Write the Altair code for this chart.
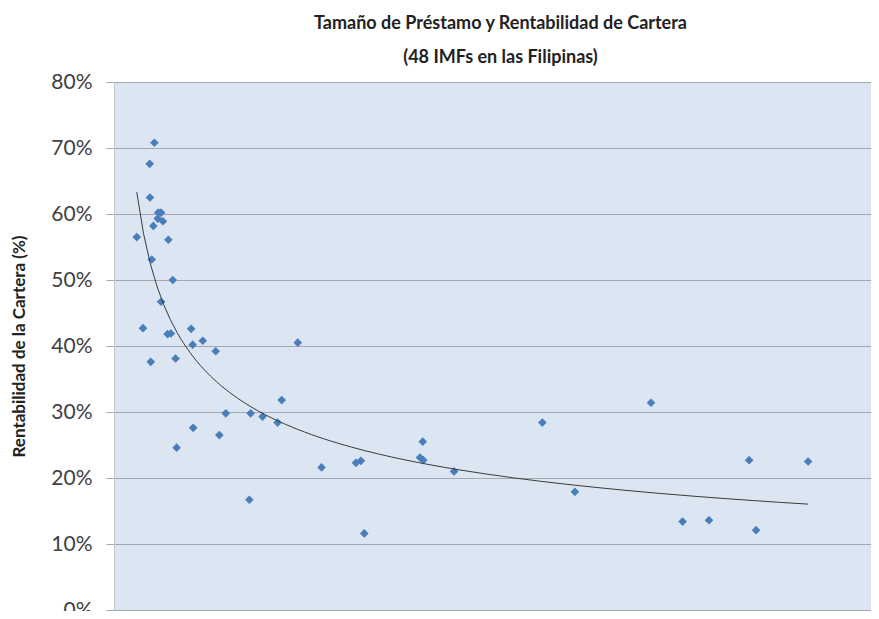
import altair as alt
import pandas as pd

# Average loan size (axis units, tick every 5) and portfolio yield (fraction)
loan_size = [0.88, 1.12, 1.38, 1.39, 1.56, 1.46, 1.42, 1.52, 1.71, 1.82,
             1.69, 1.89, 2.10, 1.82, 2.27, 2.07, 2.20, 2.38, 2.42, 2.98,
             3.04, 3.06, 3.43, 3.93, 4.07, 4.32, 5.23, 5.28, 5.74, 6.32,
             6.48, 7.10, 8.02, 9.35, 9.54, 9.67, 11.82, 11.95, 11.93, 13.14,
             16.55, 17.81, 20.75, 21.97, 22.99, 24.54, 24.81, 26.82]
portfolio_yield = [0.565, 0.427, 0.676, 0.625, 0.708, 0.531, 0.376, 0.582, 0.602, 0.602,
                   0.593, 0.589, 0.561, 0.467, 0.500, 0.418, 0.419, 0.381, 0.246, 0.426,
                   0.402, 0.276, 0.408, 0.392, 0.265, 0.298, 0.167, 0.298, 0.293, 0.284,
                   0.318, 0.405, 0.216, 0.223, 0.226, 0.116, 0.231, 0.227, 0.255, 0.210,
                   0.284, 0.179, 0.314, 0.134, 0.136, 0.227, 0.121, 0.225]

x_ticks = [0, 5, 10, 15, 20, 25]
y_ticks = [0, 0.1, 0.2, 0.3, 0.4, 0.5, 0.6, 0.7, 0.8]

title_lines = ["Tamaño de Préstamo y Rentabilidad de Cartera", "(48 IMFs en las Filipinas)"]
y_title = "Rentabilidad de la Cartera (%)"

df = pd.DataFrame({"loan": loan_size, "ret": portfolio_yield})

x_scale = alt.Scale(domain=[0, 29.25], nice=False, zero=False)
y_scale = alt.Scale(domain=[0, 0.8], nice=False)

x_axis = alt.Axis(values=x_ticks, labels=False, title=None, grid=False, domain=False,
                  ticks=True, tickSize=8, tickColor="#a6a6a6", tickWidth=1)
y_axis = alt.Axis(values=y_ticks, format=".0%", title=y_title, grid=True,
                  gridColor="#a3a8ae", gridWidth=1, domain=True, domainColor="#c2c8d0",
                  tickColor="#a3a8ae", tickSize=8, labelPadding=14,
                  labelFont="Lato", labelFontSize=21, labelColor="#404040",
                  titleFont="Lato", titleFontSize=17, titleFontWeight="bold",
                  titleColor="#222222", titleX=-86, titlePadding=0)

base = alt.Chart(df)

points = base.mark_point(shape="diamond", filled=True, size=75, color="#4a7ebb", opacity=1).encode(
    x=alt.X("loan:Q", scale=x_scale, axis=x_axis),
    y=alt.Y("ret:Q", scale=y_scale, axis=y_axis),
)

trend = base.transform_regression("loan", "ret", method="pow").mark_line(
    color="#3a3a3a", strokeWidth=1
).encode(
    x=alt.X("loan:Q", scale=x_scale),
    y=alt.Y("ret:Q", scale=y_scale),
)

chart = alt.layer(points, trend).properties(
    width=757,
    height=528,
    autosize=alt.AutoSizeParams(type="none"),
    padding={"left": 106, "top": 74, "right": 0, "bottom": 1},
    title=alt.TitleParams(text=title_lines, font="Lato", fontSize=18, fontWeight="bold",
                          color="#222222", lineHeight=34, anchor="middle", dx=8, offset=4),
).configure_view(fill="#dce6f2", stroke=None)

chart.save("out.html", embed_options={"renderer": "svg", "actions": False})
